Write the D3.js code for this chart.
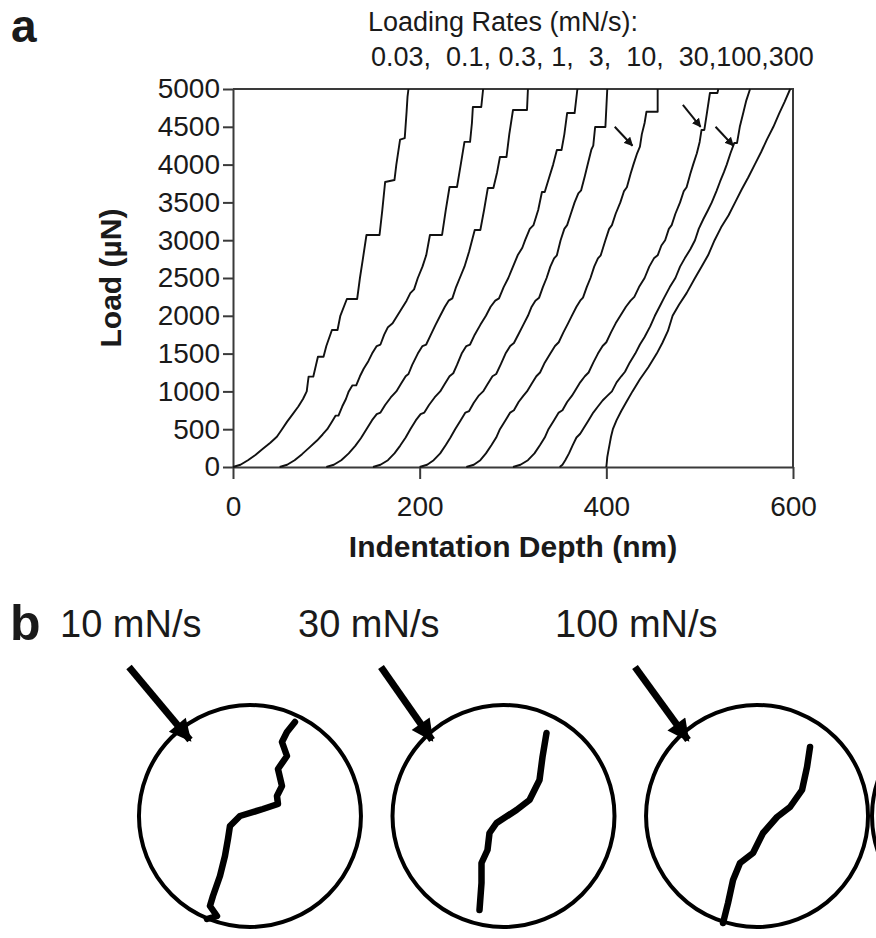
<!DOCTYPE html>
<html>
<head>
<meta charset="utf-8">
<script src="https://cdn.jsdelivr.net/npm/d3@7"></script>
<style>
    body { margin: 0; background: #fff; }
    svg { display: block; }
    text { font-family: "Liberation Sans", Arial, sans-serif; fill: #1a1a1a; }
</style>
</head>
<body>
<div id="chart"></div>
<script>
// loading rates, one curve each, left to right
var rates = ["0.03", "0.1", "0.3", "1", "3", "10", "30", "100", "300"];
var xTicks = [0, 200, 400, 600];
var yTicks = [0, 500, 1000, 1500, 2000, 2500, 3000, 3500, 4000, 4500, 5000];

// [indentation depth (nm), load (µN)]
var curve003 = [[0,0],[8,30],[16,90],[24,160],[32,240],[40,320],[47,400],[52,490],[58,600],[64,700],[70,800],[75,900],[79,1000],[80,1100],[81,1195],[86,1195],[88,1300],[91,1459],[97,1459],[100,1600],[106,1812],[112,1812],[115,2000],[122,2222],[133,2222],[136,2500],[139,2740],[143,3069],[157,3069],[160,3400],[163,3770],[173,3796],[175,4000],[179,4330],[184,4350],[186,4700],[187,4900],[188,5000]];
var curve01 = [[50,0],[58,30],[66,90],[74,170],[82,260],[90,350],[96,430],[101,500],[106,600],[110,680],[113,680],[117,800],[121,900],[124,1000],[128,1080],[132,1080],[136,1200],[140,1300],[145,1400],[149,1500],[154,1600],[158,1620],[162,1750],[166,1850],[171,1900],[176,2000],[181,2100],[186,2200],[190,2300],[194,2350],[198,2500],[203,2650],[207,2800],[211,3069],[224,3069],[228,3400],[232,3704],[240,3704],[244,4000],[248,4300],[254,4300],[256,4550],[257,4762],[266,4762],[268,5000]];
var curve03 = [[100,0],[108,30],[116,90],[124,180],[131,280],[137,380],[143,500],[149,620],[154,700],[158,720],[163,820],[169,920],[175,1000],[180,1100],[185,1200],[188,1230],[192,1350],[198,1500],[203,1600],[207,1620],[212,1750],[217,1880],[222,2000],[227,2120],[231,2200],[235,2230],[239,2380],[243,2500],[248,2650],[253,2850],[259,3135],[265,3135],[269,3400],[273,3690],[279,3690],[283,3900],[286,4100],[293,4100],[296,4400],[300,4722],[315,4722],[316,5000]];
var curve1 = [[150,0],[158,30],[166,90],[173,180],[179,280],[185,390],[190,500],[196,620],[201,700],[205,720],[210,820],[216,920],[222,1000],[227,1100],[232,1200],[236,1240],[240,1350],[245,1500],[250,1600],[254,1620],[259,1750],[265,1880],[271,2000],[276,2120],[281,2200],[285,2230],[290,2380],[295,2500],[300,2650],[305,2800],[310,2900],[313,3000],[318,3150],[322,3200],[327,3400],[331,3638],[334,3638],[338,3800],[343,4000],[347,4193],[352,4193],[355,4400],[358,4682],[366,4682],[369,5000]];
var curve3 = [[200,0],[208,30],[215,90],[222,180],[228,290],[233,390],[238,500],[244,620],[249,720],[253,740],[258,850],[263,940],[268,1000],[273,1100],[278,1200],[282,1230],[287,1360],[292,1500],[297,1600],[301,1640],[306,1760],[311,1880],[316,2000],[320,2120],[324,2200],[328,2240],[332,2380],[336,2500],[340,2650],[344,2760],[347,2800],[351,3000],[355,3150],[358,3200],[362,3350],[366,3500],[370,3620],[373,3660],[377,3850],[380,4000],[384,4200],[386,4250],[388,4497],[399,4497],[401,5000]];
var curve10 = [[250,0],[258,30],[265,90],[271,180],[277,290],[282,390],[286,500],[292,620],[297,720],[301,750],[306,860],[311,940],[315,1000],[320,1100],[325,1200],[329,1250],[334,1380],[340,1500],[345,1600],[349,1650],[354,1780],[359,1900],[363,2000],[368,2120],[372,2200],[375,2240],[379,2380],[383,2500],[387,2650],[391,2760],[394,2800],[399,3000],[403,3150],[406,3200],[410,3350],[415,3500],[419,3650],[422,3700],[426,3880],[429,4000],[433,4150],[436,4237],[438,4400],[441,4550],[443,4700],[455,4700],[455,5000]];
var curve30 = [[300,0],[308,30],[316,90],[323,180],[329,290],[334,390],[338,500],[344,620],[349,720],[353,750],[358,860],[363,940],[366,1000],[372,1120],[377,1200],[381,1250],[386,1380],[391,1500],[396,1600],[400,1650],[405,1780],[410,1900],[415,2000],[421,2120],[426,2200],[430,2250],[435,2380],[441,2500],[446,2650],[451,2760],[455,2800],[459,2930],[463,3000],[467,3150],[470,3200],[474,3350],[479,3500],[483,3650],[486,3700],[490,3880],[493,4000],[497,4150],[500,4300],[502,4458],[505,4458],[508,4700],[511,4947],[519,4947],[520,5000]];
var curve100 = [[350,0],[353,30],[356,90],[360,180],[364,290],[368,390],[372,440],[375,500],[381,620],[386,720],[391,800],[396,880],[401,940],[406,1000],[411,1120],[416,1200],[420,1260],[425,1380],[431,1500],[436,1620],[441,1720],[447,1860],[452,2000],[457,2120],[462,2240],[468,2380],[474,2500],[479,2650],[484,2760],[490,2880],[495,3000],[499,3150],[504,3280],[509,3400],[513,3500],[518,3650],[522,3780],[526,3900],[529,4000],[533,4150],[537,4285],[540,4285],[543,4500],[547,4700],[550,4850],[554,5000]];
var curve300 = [[400,0],[400.5,60],[401,130],[402,200],[403.5,300],[405,400],[407,500],[411,620],[416,740],[421,850],[428,1000],[436,1160],[445,1320],[454,1500],[460,1640],[466,1800],[471,2000],[478,2150],[486,2300],[495,2500],[502,2650],[509,2800],[516,3000],[523,3170],[531,3330],[538,3500],[545,3670],[552,3830],[559,4000],[566,4170],[572,4330],[579,4500],[585,4670],[591,4830],[597,5000]];

// small arrows of panel a: [tail depth, tail load, tip depth, tip load]
var popinArrows = [[409, 4500, 428, 4250], [482, 4790, 501, 4500], [517, 4500, 536, 4250]];

// panel b: zoomed pop-in traces, offsets from the circle centre in px
var bLabels = ["10 mN/s", "30 mN/s", "100 mN/s"];
var crack10 = [[45,-94],[37,-84],[32,-74],[37,-60],[28,-47],[32,-30],[27,-20],[28,-12],[13,-7],[-10,0],[-20,10],[-22,23],[-25,40],[-30,60],[-37,80],[-40,90],[-33,100],[-43,103]];
var crack30 = [[43,-83],[39,-59],[36,-36],[26,-16],[13,-6],[-7,7],[-14,17],[-16,34],[-22,47],[-22,67],[-24,94]];
var crack100 = [[53,-69],[50,-49],[45,-26],[33,-9],[20,1],[6,17],[-4,37],[-17,47],[-24,64],[-29,87],[-34,107]];

var curves = [curve003, curve01, curve03, curve1, curve3, curve10, curve30, curve100, curve300];
var cracks = [crack10, crack30, crack100];

var width_all = 876, height_all = 938;
var margin = { top: 89, right: 83, bottom: 471, left: 233 };
var width = width_all - margin.left - margin.right,
    height = height_all - margin.top - margin.bottom;

var svg = d3.select("#chart")
    .append("svg")
    .attr("width", width_all)
    .attr("height", height_all);

var defs = svg.append("defs");
defs.append("marker")
    .attr("id", "headSmall")
    .attr("viewBox", "0 0 10 10")
    .attr("refX", 9).attr("refY", 5)
    .attr("markerWidth", 9).attr("markerHeight", 9)
    .attr("markerUnits", "userSpaceOnUse")
    .attr("orient", "auto")
    .append("path").attr("d", "M0,0L10,5L0,10z").attr("fill", "#111");
defs.append("marker")
    .attr("id", "headBig")
    .attr("viewBox", "0 0 10 10")
    .attr("refX", 9).attr("refY", 5)
    .attr("markerWidth", 26).attr("markerHeight", 22)
    .attr("markerUnits", "userSpaceOnUse")
    .attr("orient", "auto")
    .append("path").attr("d", "M0,0L10,5L0,10z").attr("fill", "#000");

// ---------- panel a ----------
var x = d3.scaleLinear().domain([0, 600]).range([margin.left, margin.left + width]);
var y = d3.scaleLinear().domain([0, 5000]).range([margin.top + height, margin.top]);

svg.append("text")
    .attr("x", 11).attr("y", 42)
    .attr("font-size", "46px").attr("font-weight", "bold")
    .text("a");

svg.append("text")
    .attr("x", 503).attr("y", 31)
    .attr("text-anchor", "middle")
    .attr("font-size", "27px")
    .text("Loading Rates (mN/s):");
svg.append("text")
    .attr("x", 371).attr("y", 66)
    .attr("font-size", "27px")
    .style("white-space", "pre")
    .text("0.03,  0.1, 0.3, 1,  3,  10,  30,100,300");

// axes
var xAxis = svg.append("g")
    .attr("transform", "translate(0," + y(0) + ")")
    .call(d3.axisBottom(x).tickValues(xTicks).tickSize(12).tickSizeOuter(0).tickPadding(17).tickFormat(d3.format("d")));
var yAxis = svg.append("g")
    .attr("transform", "translate(" + x(0) + ",0)")
    .call(d3.axisLeft(y).tickValues(yTicks).tickSize(10).tickSizeOuter(0).tickPadding(3).tickFormat(d3.format("d")));

[xAxis, yAxis].forEach(function(g) {
    g.attr("font-size", null).attr("font-family", null);
    g.select(".domain").attr("stroke", "#3a3a3a").attr("stroke-width", 2);
    g.selectAll(".tick line").attr("stroke", "#3a3a3a").attr("stroke-width", 2);
    g.selectAll(".tick text").attr("font-size", "28px").attr("fill", "#1a1a1a");
});

// frame on top and right
svg.append("path")
    .attr("d", "M" + x(0) + "," + y(5000) + "H" + x(600) + "V" + y(0))
    .attr("fill", "none")
    .attr("stroke", "#3a3a3a")
    .attr("stroke-width", 2);

// the load-depth curves
var line = d3.line()
    .x(function(d) { return x(d[0]); })
    .y(function(d) { return y(d[1]); });

svg.append("g")
    .selectAll("path")
    .data(curves)
    .enter()
    .append("path")
    .attr("d", line)
    .attr("fill", "none")
    .attr("stroke", "#111")
    .attr("stroke-width", 1.9)
    .attr("stroke-linejoin", "round");

svg.append("g")
    .selectAll("line")
    .data(popinArrows)
    .enter()
    .append("line")
    .attr("x1", function(d) { return x(d[0]); })
    .attr("y1", function(d) { return y(d[1]); })
    .attr("x2", function(d) { return x(d[2]); })
    .attr("y2", function(d) { return y(d[3]); })
    .attr("stroke", "#111")
    .attr("stroke-width", 2)
    .attr("marker-end", "url(#headSmall)");

// axis titles
svg.append("text")
    .attr("transform", "translate(121," + ((y(0) + y(5000)) / 2) + ") rotate(-90)")
    .attr("text-anchor", "middle")
    .attr("font-size", "30px")
    .attr("font-weight", "bold")
    .text("Load (µN)");
svg.append("text")
    .attr("x", (x(0) + x(600)) / 2).attr("y", 557)
    .attr("text-anchor", "middle")
    .attr("font-size", "30px")
    .attr("font-weight", "bold")
    .text("Indentation Depth (nm)");

// ---------- panel b ----------
svg.append("text")
    .attr("x", 10).attr("y", 640)
    .attr("font-size", "50px").attr("font-weight", "bold")
    .text("b");

var circleX = d3.scaleBand().domain(bLabels).range([127, 880]).paddingInner(0.03);
var radius = 111, circleY = 816;
var labelX = [60, 298, 555];
var bigArrows = [[129, 667, 190, 740], [381, 667, 432, 740], [635, 667, 688, 740]];

var panels = svg.append("g")
    .selectAll("g")
    .data(bLabels)
    .enter()
    .append("g");

panels.each(function(lab, i) {
    var g = d3.select(this);
    var cx = circleX(lab) + circleX.bandwidth() / 2;
    var sx = d3.scaleLinear().domain([-120, 120]).range([cx - 120, cx + 120]);
    var sy = d3.scaleLinear().domain([-120, 120]).range([circleY - 120, circleY + 120]);

    g.append("text")
        .attr("x", labelX[i]).attr("y", 637)
        .attr("font-size", "38px")
        .text(lab);

    g.append("line")
        .attr("x1", bigArrows[i][0]).attr("y1", bigArrows[i][1])
        .attr("x2", bigArrows[i][2]).attr("y2", bigArrows[i][3])
        .attr("stroke", "#000")
        .attr("stroke-width", 7)
        .attr("marker-end", "url(#headBig)");

    g.append("circle")
        .attr("cx", cx).attr("cy", circleY).attr("r", radius)
        .attr("fill", "none")
        .attr("stroke", "#000")
        .attr("stroke-width", 4);

    g.append("path")
        .datum(cracks[i])
        .attr("d", d3.line().x(function(d) { return sx(d[0]); }).y(function(d) { return sy(d[1]); }))
        .attr("fill", "none")
        .attr("stroke", "#000")
        .attr("stroke-width", 6.5)
        .attr("stroke-linejoin", "round")
        .attr("stroke-linecap", "round");
});

// the next circle is cut off by the right edge
svg.append("circle")
    .attr("cx", 983).attr("cy", circleY).attr("r", radius)
    .attr("fill", "none")
    .attr("stroke", "#000")
    .attr("stroke-width", 4);
</script>
</body>
</html>
